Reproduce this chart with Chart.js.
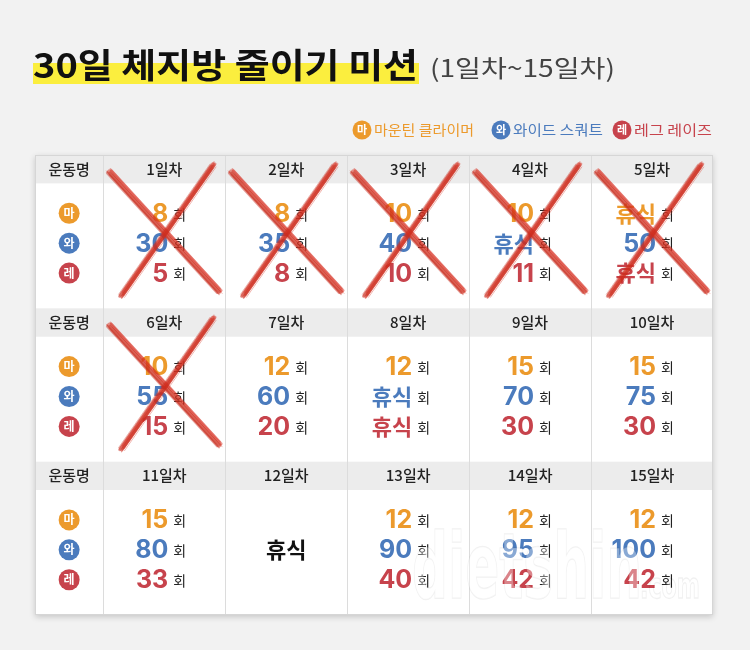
<!DOCTYPE html>
<html>
<head>
<meta charset="utf-8">
<script src="https://cdn.jsdelivr.net/npm/chart.js@4.4.1/dist/chart.umd.min.js"></script>
<style>
  html, body { margin: 0; padding: 0; background: #f2f2f2; }
  #wrap { width: 750px; height: 650px; }
</style>
</head>
<body>
<div id="wrap"><canvas id="missionChart" width="750" height="650"></canvas></div>
<script>
// 데이터 (null = 휴식)
const days = ['1일차', '2일차', '3일차', '4일차', '5일차', '6일차', '7일차', '8일차',
              '9일차', '10일차', '11일차', '12일차', '13일차', '14일차', '15일차'];
const mountain = [8, 8, 10, 10, null, 10, 12, 12, 15, 15, 15, null, 12, 12, 12];
const wide     = [30, 35, 40, null, 50, 55, 60, null, 70, 75, 80, null, 90, 95, 100];
const legRaise = [5, 8, 10, 11, null, 15, 20, null, 30, 30, 33, null, 40, 42, 42];
const doneDays = 6;

const seriesNames = ['마운틴 클라이머', '와이드 스쿼트', '레그 레이즈'];
const badges = ['마', '와', '레'];
const colors = ['#ec9a2c', '#4b7bbd', '#c7434c'];
const series = [mountain, wide, legRaise];

const KR = '"Noto Sans CJK KR", "Noto Sans", sans-serif';
const NUM = 'Inter, "Noto Sans", sans-serif';

// 표 좌표계: x 0~5.56 (첫 칸 0.56), y 0~3 (줄마다 머리 0.185)
const colX = i => 1.06 + (i % 5);
const band = i => Math.floor(i / 5);
const lineY = [0.38, 0.575, 0.77];
const allRest = i => series.every(s => s[i] === null);

const datasets = series.map((vals, s) => ({
    label: seriesNames[s],
    data: days.map((d, i) => ({ x: colX(i), y: band(i) + lineY[s], day: i }))
              .filter(p => !allRest(p.day)),
    pointRadius: 0,
    showLine: false
}));
datasets.push({
    label: '휴식',
    data: days.map((d, i) => ({ x: colX(i), y: band(i) + lineY[1], day: i }))
              .filter(p => allRest(p.day)),
    pointRadius: 0,
    showLine: false
});

function crayon(ctx, x1, y1, x2, y2) {
    const passes = [[0, 0, 5, 0.5], [-2, 1, 3, 0.45], [2, -1, 3, 0.45], [0, 3, 1.5, 0.4],
                    [1, -3, 1.5, 0.4], [-3, -1, 1, 0.35], [3, 2, 1, 0.35], [0.5, 0.5, 2, 0.5]];
    ctx.save();
    ctx.lineCap = 'round';
    passes.forEach((p, k) => {
        ctx.strokeStyle = 'rgba(' + (k % 2 ? 200 : 215) + ', 45, 30,' + p[3] + ')';
        ctx.lineWidth = p[2];
        ctx.beginPath();
        ctx.moveTo(x1 + p[0], y1 + p[1]);
        ctx.lineTo(x2 + p[0], y2 + p[1]);
        ctx.stroke();
    });
    ctx.restore();
}

function fitText(ctx, text, x, y, width) {
    const w = ctx.measureText(text).width;
    ctx.save();
    ctx.translate(x, y);
    ctx.scale(width / w, 1);
    ctx.fillText(text, 0, 0);
    ctx.restore();
}

const tablePlugin = {
    id: 'missionTable',
    beforeDraw(chart) {
        const ctx = chart.ctx;
        ctx.save();
        ctx.fillStyle = '#f2f2f2';
        ctx.fillRect(0, 0, chart.width, chart.height);

        // 제목
        ctx.fillStyle = '#fbee3e';
        ctx.fillRect(33, 63, 386, 21);
        ctx.font = 'bold 34px ' + KR;
        ctx.fillStyle = '#111';
        fitText(ctx, '30일 체지방 줄이기 미션', 33, 78, 385);
        ctx.font = '24px ' + KR;
        ctx.fillStyle = '#444';
        fitText(ctx, '(1일차~15일차)', 430, 77, 185);

        // 범례
        const lx = [362, 501, 622];
        const lw = [100, 90, 78];
        ctx.textBaseline = 'middle';
        series.forEach((s, k) => {
            ctx.fillStyle = colors[k];
            ctx.beginPath();
            ctx.arc(lx[k], 130, 9.5, 0, Math.PI * 2);
            ctx.fill();
            ctx.fillStyle = '#fff';
            ctx.font = 'bold 11px ' + KR;
            ctx.textAlign = 'center';
            ctx.fillText(badges[k], lx[k], 130);
            ctx.fillStyle = colors[k];
            ctx.font = '14px ' + KR;
            ctx.textAlign = 'left';
            fitText(ctx, seriesNames[k], lx[k] + 12, 130, lw[k]);
        });
        ctx.restore();
    },
    beforeDatasetsDraw(chart) {
        const ctx = chart.ctx;
        const { x: xs, y: ys } = chart.scales;
        const a = chart.chartArea;
        ctx.save();
        ctx.shadowColor = 'rgba(0,0,0,0.18)';
        ctx.shadowBlur = 6;
        ctx.shadowOffsetY = 2;
        ctx.fillStyle = '#fff';
        ctx.fillRect(a.left, a.top, a.right - a.left, a.bottom - a.top);
        ctx.restore();

        ctx.save();
        for (let b = 0; b < 3; b++) {
            const top = ys.getPixelForValue(b);
            const hb = ys.getPixelForValue(b + 0.185);
            ctx.fillStyle = '#ececec';
            ctx.fillRect(a.left, top, a.right - a.left, hb - top);
            ctx.textAlign = 'center';
            ctx.textBaseline = 'middle';
            ctx.fillStyle = '#222';
            ctx.font = '500 15px ' + KR;
            const hy = ys.getPixelForValue(b + 0.09);
            ctx.fillText('운동명', xs.getPixelForValue(0.28), hy);
            for (let c = 0; c < 5; c++) {
                ctx.fillText(days[b * 5 + c], xs.getPixelForValue(1.06 + c), hy);
            }
            // 배지
            lineY.forEach((ly, k) => {
                const cx = xs.getPixelForValue(0.28), cy = ys.getPixelForValue(b + ly);
                ctx.fillStyle = colors[k];
                ctx.beginPath();
                ctx.arc(cx, cy, 10.5, 0, Math.PI * 2);
                ctx.fill();
                ctx.fillStyle = '#fff';
                ctx.font = 'bold 12px ' + KR;
                ctx.fillText(badges[k], cx, cy);
            });
        }
        ctx.strokeStyle = '#dcdcdc';
        ctx.lineWidth = 1;
        for (let c = 0; c < 5; c++) {
            const px = Math.round(xs.getPixelForValue(0.56 + c)) + 0.5;
            ctx.beginPath();
            ctx.moveTo(px, a.top);
            ctx.lineTo(px, a.bottom);
            ctx.stroke();
        }
        ctx.strokeStyle = '#d6d6d6';
        ctx.strokeRect(a.left + 0.5, a.top + 0.5, a.right - a.left - 1, a.bottom - a.top - 1);
        ctx.restore();
    },
    afterDatasetsDraw(chart) {
        const ctx = chart.ctx;
        const { x: xs, y: ys } = chart.scales;
        ctx.save();
        ctx.textBaseline = 'middle';
        chart.data.datasets.forEach((ds, s) => {
            const meta = chart.getDatasetMeta(s);
            meta.data.forEach((el, j) => {
                if (s === 3) {
                    ctx.fillStyle = '#111';
                    ctx.font = 'bold 22px ' + KR;
                    ctx.textAlign = 'center';
                    ctx.fillText('휴식', el.x, el.y);
                    return;
                }
                const v = series[s][ds.data[j].day];
                ctx.fillStyle = colors[s];
                ctx.textAlign = 'right';
                if (v === null) {
                    ctx.font = 'bold 22px ' + KR;
                    ctx.fillText('휴식', el.x + 4, el.y);
                } else {
                    ctx.font = 'bold 25px ' + NUM;
                    ctx.fillText(String(v), el.x + 4, el.y + 1);
                }
                ctx.fillStyle = '#222';
                ctx.font = '14px ' + KR;
                ctx.textAlign = 'left';
                ctx.fillText('회', el.x + 9, el.y + 1);
            });
        });

        // 워터마크
        ctx.textAlign = 'left';
        ctx.textBaseline = 'alphabetic';
        ctx.fillStyle = 'rgba(255,255,255,0.35)';
        ctx.strokeStyle = 'rgba(0,0,0,0.06)';
        ctx.lineWidth = 1.5;
        ctx.font = 'bold 90px "DejaVu Sans", sans-serif';
        const wm = 'dietshin';
        const ww = ctx.measureText(wm).width;
        ctx.save();
        ctx.translate(412, 598);
        ctx.scale(230 / ww, 1);
        ctx.strokeText(wm, 0, 0);
        ctx.fillText(wm, 0, 0);
        ctx.restore();
        ctx.font = 'bold 36px "DejaVu Sans", sans-serif';
        const cw = ctx.measureText('.com').width;
        ctx.save();
        ctx.translate(640, 598);
        ctx.scale(60 / cw, 1);
        ctx.strokeText('.com', 0, 0);
        ctx.restore();

        // 완료한 날 X 표시
        for (let i = 0; i < doneDays; i++) {
            const c0 = 0.56 + (i % 5), b = band(i);
            crayon(ctx, xs.getPixelForValue(c0 + 0.05), ys.getPixelForValue(b + 0.11),
                        xs.getPixelForValue(c0 + 0.95), ys.getPixelForValue(b + 0.89));
            crayon(ctx, xs.getPixelForValue(c0 + 0.9), ys.getPixelForValue(b + 0.065),
                        xs.getPixelForValue(c0 + 0.15), ys.getPixelForValue(b + 0.915));
        }
        ctx.restore();
    }
};

new Chart(document.getElementById('missionChart'), {
    type: 'scatter',
    data: { datasets: datasets },
    options: {
        responsive: false,
        animation: false,
        layout: { padding: { left: 35, right: 37, top: 155, bottom: 35 } },
        plugins: {
            legend: { display: false },
            tooltip: { enabled: false }
        },
        scales: {
            x: { type: 'linear', min: 0, max: 5.56, display: false },
            y: { type: 'linear', min: 0, max: 3, reverse: true, display: false }
        }
    },
    plugins: [tablePlugin]
});
</script>
</body>
</html>
